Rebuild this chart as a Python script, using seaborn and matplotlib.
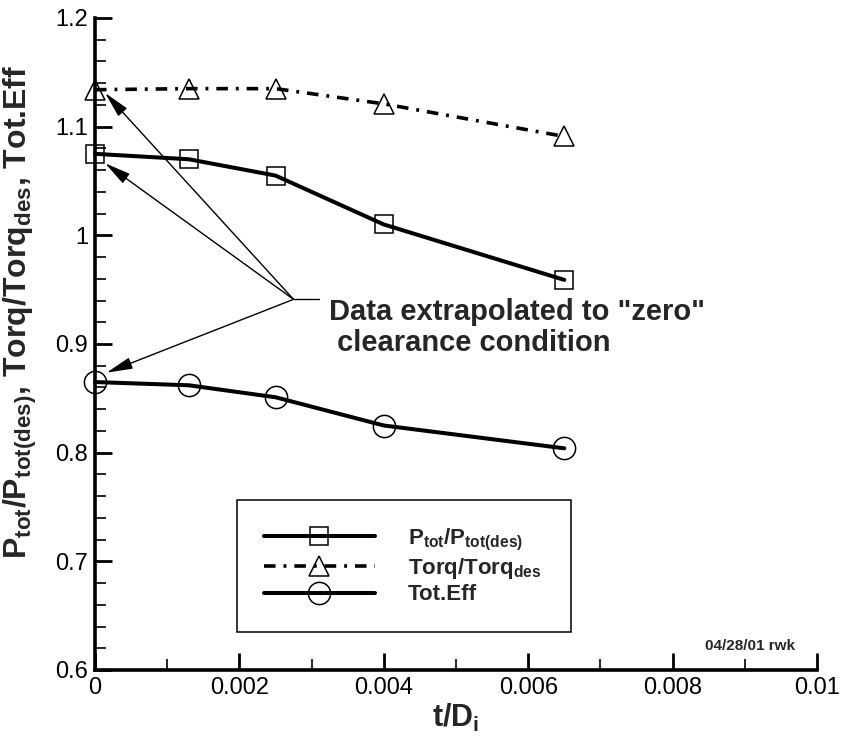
import matplotlib
matplotlib.use("Agg")
import matplotlib.pyplot as plt
import seaborn as sns
import pandas as pd
from matplotlib.ticker import FixedLocator, MultipleLocator

# ---------------- data ----------------
t_over_d = [0.0, 0.0013, 0.0025, 0.0040, 0.0065]
ptot_ratio = [1.075, 1.070, 1.055, 1.010, 0.959]
torq_ratio = [1.134, 1.135, 1.135, 1.121, 1.091]
tot_eff = [0.865, 0.862, 0.851, 0.825, 0.804]

series_labels = [r"P$_{tot}$/P$_{tot(des)}$", r"Torq/Torq$_{des}$", r"Tot.Eff"]

x_ticks = [0.0, 0.002, 0.004, 0.006, 0.008, 0.010]
x_tick_labels = ["0", "0.002", "0.004", "0.006", "0.008", "0.01"]
y_ticks = [0.6, 0.7, 0.8, 0.9, 1.0, 1.1, 1.2]
y_tick_labels = ["0.6", "0.7", "0.8", "0.9", "1", "1.1", "1.2"]

x_label = r"t/D$_{i}$"
y_label = r"P$_{tot}$/P$_{tot(des)}$, Torq/Torq$_{des}$, Tot.Eff"
note_text = 'Data extrapolated to "zero"\n clearance condition'
stamp_text = "04/28/01 rwk"

# annotation geometry (data coordinates)
junction = (0.00275, 0.9411)
junction_end = (0.00310, 0.9411)
arrow_tips = [(0.00014, 1.1310), (0.00014, 1.0663), (0.00016, 0.8736)]

# ---------------- style ----------------
sns.set_theme(style="ticks")
plt.rcParams["font.family"] = ["Liberation Sans", "DejaVu Sans"]
plt.rcParams["mathtext.fontset"] = "custom"
plt.rcParams["mathtext.rm"] = "Liberation Sans:bold"
plt.rcParams["mathtext.bf"] = "Liberation Sans:bold"
plt.rcParams["mathtext.it"] = "Liberation Sans:bold"
plt.rcParams["mathtext.default"] = "bf"

fig = plt.figure(figsize=(8.41, 7.38), dpi=100)
ax = fig.add_axes([95 / 841, (738 - 670) / 738, (817 - 95) / 841, (670 - 18) / 738])

df = pd.DataFrame({"x": t_over_d, "ptot": ptot_ratio, "torq": torq_ratio, "eff": tot_eff})

common = dict(ax=ax, color="black", sort=False, markerfacecolor="none",
              markeredgecolor="black", markeredgewidth=1.1, clip_on=False, zorder=3)
sns.lineplot(data=df, x="x", y="ptot", marker="s", markersize=13, linewidth=2.9,
             label=series_labels[0], **common)
sns.lineplot(data=df, x="x", y="torq", marker="^", markersize=15, linewidth=2.6,
             label=series_labels[1], **common)
sns.lineplot(data=df, x="x", y="eff", marker="o", markersize=16, linewidth=2.9,
             label=series_labels[2], **common)
ax.lines[1].set_dashes([3.2, 2.2, 0.8, 2.2])

ax.set_xlim(0, 0.01)
ax.set_ylim(0.6, 1.2)
ax.xaxis.set_major_locator(FixedLocator(x_ticks))
ax.set_xticklabels(x_tick_labels)
ax.yaxis.set_major_locator(FixedLocator(y_ticks))
ax.set_yticklabels(y_tick_labels)
ax.xaxis.set_minor_locator(MultipleLocator(0.001))
ax.yaxis.set_minor_locator(MultipleLocator(0.02))
ax.tick_params(which="major", direction="in", length=12, width=2.0, labelsize=17,
               color="black", labelcolor="black", pad=5)
ax.tick_params(which="minor", direction="in", length=8, width=1.2, color="black")
for s in ["top", "right"]:
    ax.spines[s].set_visible(False)
for s in ["left", "bottom"]:
    ax.spines[s].set_linewidth(2.6)
    ax.spines[s].set_color("black")

ax.set_xlabel(x_label, fontsize=22, fontweight="bold", labelpad=2)
ax.set_ylabel(y_label, fontsize=23, fontweight="bold")
ax.yaxis.set_label_coords(-0.078, 0.55)

# annotation arrows
for tip in arrow_tips:
    ax.annotate("", xy=tip, xytext=junction,
                arrowprops=dict(arrowstyle="-|>,head_length=0.8,head_width=0.18",
                                mutation_scale=20, lw=1.0, color="black",
                                shrinkA=0, shrinkB=0), annotation_clip=False)
ax.plot([junction[0], junction_end[0]], [junction[1], junction_end[1]],
        color="black", lw=1.0)
ax.text(0.00324, 0.9420, note_text, fontsize=21, fontweight="bold", va="top",
        ha="left", linespacing=1.1)

ax.text(795 / 841, (738 - 650) / 738, stamp_text, transform=fig.transFigure,
        fontsize=11, fontweight="bold", ha="right", va="baseline")

leg = ax.legend(loc="lower left",
                bbox_to_anchor=(237 / 841, (738 - 632) / 738, (571 - 237) / 841, 0.1),
                bbox_transform=fig.transFigure, mode="expand",
                frameon=True, fancybox=False, framealpha=1, edgecolor="black",
                prop={"weight": "bold", "size": 16}, handlelength=5.0,
                handletextpad=1.5, borderpad=1.2, labelspacing=0.15, borderaxespad=0)
leg.get_frame().set_linewidth(1.1)

fig.savefig("out.png", dpi=100)
